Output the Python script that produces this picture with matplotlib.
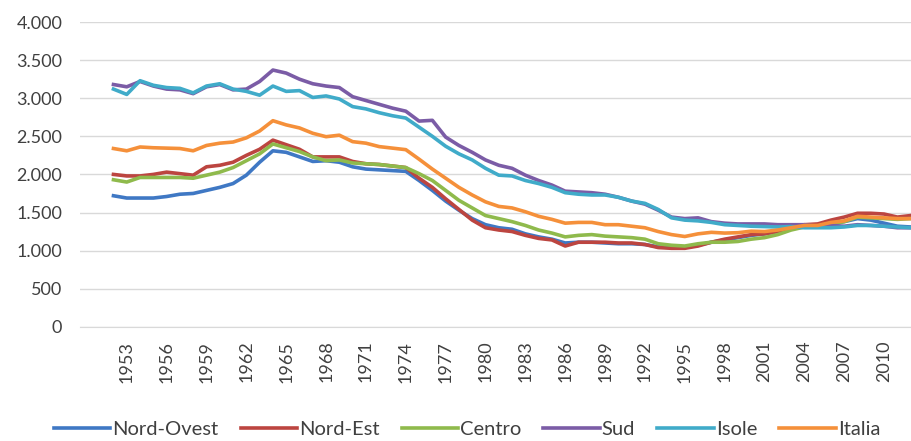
import matplotlib
matplotlib.use("Agg")
import matplotlib.pyplot as plt
from matplotlib.ticker import FuncFormatter, MultipleLocator
import numpy as np

plt.rcParams['font.family'] = ['Lato', 'DejaVu Sans']

years = list(range(1952, 2013))

nord_ovest = [1720, 1690, 1690, 1690, 1710, 1740, 1750, 1790, 1830, 1880,
              1990, 2160, 2310, 2290, 2230, 2170, 2180, 2160, 2100, 2070,
              2060, 2050, 2040, 1920, 1790, 1650, 1530, 1420, 1340, 1300,
              1280, 1220, 1180, 1150, 1100, 1110, 1110, 1100, 1090, 1090,
              1080, 1050, 1040, 1040, 1070, 1110, 1140, 1170, 1200, 1220,
              1250, 1280, 1320, 1320, 1350, 1380, 1420, 1400, 1360, 1320, 1310]
nord_est = [2000, 1980, 1980, 2000, 2030, 2010, 1990, 2100, 2120, 2160,
            2250, 2330, 2450, 2390, 2330, 2230, 2230, 2230, 2170, 2140,
            2130, 2110, 2090, 1950, 1830, 1680, 1540, 1400, 1300, 1270,
            1250, 1200, 1160, 1140, 1060, 1110, 1110, 1110, 1100, 1100,
            1080, 1040, 1030, 1030, 1060, 1110, 1150, 1180, 1210, 1220,
            1250, 1290, 1340, 1350, 1400, 1440, 1490, 1490, 1480, 1440, 1460]
centro = [1930, 1900, 1960, 1960, 1960, 1960, 1950, 1990, 2030, 2090,
          2180, 2270, 2400, 2350, 2300, 2230, 2180, 2190, 2150, 2140,
          2130, 2110, 2090, 2010, 1920, 1790, 1660, 1560, 1460, 1420,
          1380, 1330, 1270, 1230, 1180, 1200, 1210, 1190, 1180, 1170,
          1150, 1090, 1070, 1060, 1090, 1110, 1110, 1120, 1150, 1170,
          1210, 1270, 1310, 1310, 1350, 1380, 1440, 1430, 1420, 1410, 1420]
sud = [3180, 3150, 3220, 3160, 3120, 3110, 3060, 3150, 3180, 3110,
       3120, 3220, 3370, 3330, 3250, 3190, 3160, 3140, 3020, 2970,
       2920, 2870, 2830, 2700, 2710, 2490, 2380, 2290, 2190, 2120,
       2080, 1990, 1920, 1860, 1780, 1770, 1760, 1740, 1700, 1650,
       1610, 1530, 1440, 1420, 1430, 1380, 1360, 1350, 1350, 1350,
       1340, 1340, 1340, 1320, 1330, 1320, 1340, 1330, 1320, 1300, 1300]
isole = [3120, 3050, 3230, 3170, 3140, 3130, 3070, 3160, 3190, 3120,
         3090, 3040, 3160, 3090, 3100, 3010, 3030, 2990, 2890, 2860,
         2810, 2770, 2740, 2620, 2500, 2370, 2270, 2190, 2080, 1990,
         1980, 1920, 1880, 1830, 1760, 1740, 1730, 1730, 1700, 1650,
         1620, 1540, 1430, 1400, 1390, 1370, 1340, 1330, 1320, 1315,
         1310, 1315, 1300, 1300, 1300, 1310, 1330, 1330, 1320, 1310, 1300]
italia = [2340, 2310, 2360, 2350, 2345, 2340, 2310, 2380, 2410, 2425,
          2480, 2570, 2705, 2650, 2610, 2540, 2495, 2515, 2430, 2410,
          2365, 2345, 2325, 2200, 2070, 1950, 1830, 1730, 1640, 1580,
          1560, 1510, 1450, 1410, 1360, 1370, 1370, 1340, 1340, 1320,
          1300, 1250, 1210, 1185, 1220, 1240, 1230, 1235, 1255, 1250,
          1270, 1300, 1330, 1330, 1370, 1390, 1450, 1440, 1430, 1420, 1420]

series = [("Nord-Ovest", nord_ovest, "#3F78C4"),
          ("Nord-Est", nord_est, "#BC4540"),
          ("Centro", centro, "#8FBA4C"),
          ("Sud", sud, "#7B5CA6"),
          ("Isole", isole, "#40ABC9"),
          ("Italia", italia, "#F5903A")]

fig = plt.figure(figsize=(9.12, 4.41), dpi=100)
ax = fig.add_axes([0.088, 0.259, 0.912, 0.691])

for name, vals, col in series:
    ax.plot(years, vals, color=col, lw=2.6, label=name, solid_joinstyle="round")

ax.set_ylim(0, 4000)
ax.set_xlim(1949.5, 2012.1)
ax.yaxis.set_major_locator(MultipleLocator(500))
ax.yaxis.set_major_formatter(FuncFormatter(lambda v, p: f"{int(v):,}".replace(",", ".")))
ax.set_xticks(list(range(1953, 2011, 3)))
ax.grid(axis="y", color="#D9D9D9", lw=1)
ax.set_axisbelow(True)
for s in ["top", "right", "left"]:
    ax.spines[s].set_visible(False)
ax.spines["bottom"].set_color("#D9D9D9")
ax.tick_params(axis="both", length=0, labelsize=13, colors="#404040")
ax.tick_params(axis="y", pad=13)
ax.tick_params(axis="x", pad=10)
for lab in ax.get_xticklabels():
    lab.set_rotation(90)

fig.legend(loc="lower center", bbox_to_anchor=(0.512, -0.035), ncol=6, frameon=False,
           fontsize=14.5, handlelength=2.8, handletextpad=0.1, columnspacing=1.1,
           labelcolor="#404040")

fig.savefig("out.png", dpi=100)
